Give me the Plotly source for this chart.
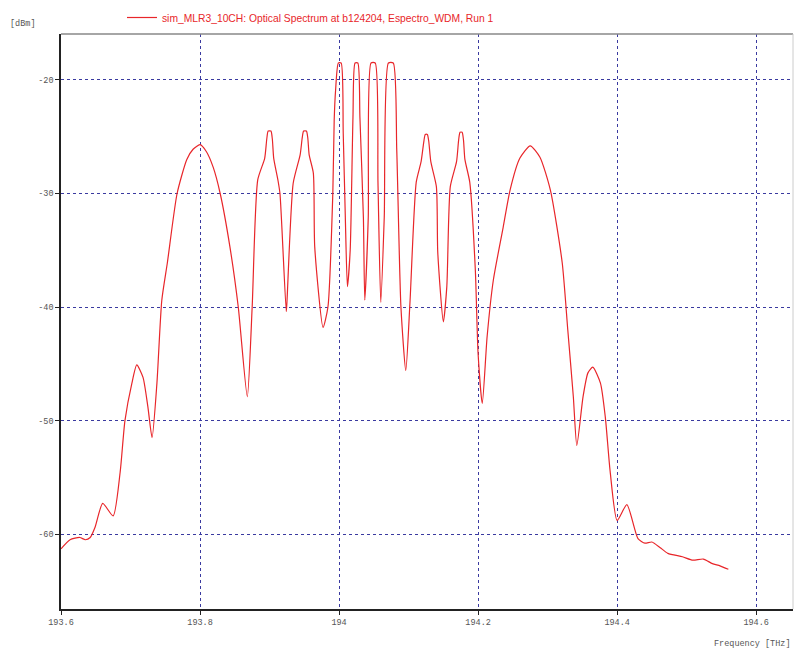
import plotly.graph_objects as go

freq_thz = [
    193.600, 193.613, 193.627, 193.635, 193.642, 193.649, 193.660, 193.675, 193.685, 193.692,
    193.702, 193.709, 193.718, 193.725, 193.731, 193.738, 193.745, 193.753, 193.767, 193.781,
    193.790, 193.800, 193.809, 193.819, 193.829, 193.843, 193.855, 193.868, 193.875, 193.883,
    193.893, 193.896, 193.898, 193.902, 193.904, 193.906, 193.912, 193.915, 193.924, 193.925,
    193.934, 193.944, 193.947, 193.949, 193.953, 193.955, 193.957, 193.963, 193.965, 193.977,
    193.984, 193.991, 193.993, 193.995, 193.999, 194.003, 194.006, 194.009, 194.012, 194.016,
    194.020, 194.023, 194.027, 194.030, 194.035, 194.037, 194.042, 194.046, 194.052, 194.056,
    194.060, 194.065, 194.071, 194.078, 194.083, 194.089, 194.096, 194.102, 194.111, 194.118,
    194.122, 194.124, 194.127, 194.129, 194.132, 194.140, 194.142, 194.150, 194.155, 194.160,
    194.169, 194.172, 194.174, 194.177, 194.179, 194.181, 194.188, 194.196, 194.200, 194.206,
    194.213, 194.222, 194.236, 194.246, 194.260, 194.275, 194.289, 194.304, 194.321, 194.329,
    194.337, 194.342, 194.351, 194.358, 194.365, 194.376, 194.383, 194.390, 194.400, 194.414,
    194.430, 194.440, 194.450, 194.462, 194.473, 194.494, 194.509, 194.524, 194.537, 194.548,
    194.560,
]
power_dbm = [
    -61.3, -60.5, -60.3, -60.5, -60.3, -59.4, -57.3, -58.4, -54.6, -50.0,
    -46.7, -45.1, -46.2, -48.8, -51.5, -46.7, -39.4, -36.1, -30.0, -27.0,
    -26.1, -25.7, -26.3, -27.7, -30.0, -34.7, -40.0, -47.9, -40.0, -28.8,
    -26.9, -25.2, -24.5, -24.5, -25.2, -26.9, -28.8, -30.0, -40.4, -39.6,
    -29.1, -26.6, -25.1, -24.5, -24.5, -25.1, -26.6, -28.2, -34.7, -41.8,
    -40.0, -30.0, -23.5, -20.9, -18.5, -18.5, -24.7, -32.1, -38.2, -35.0,
    -23.3, -18.5, -18.5, -23.3, -32.1, -39.4, -32.1, -18.5, -18.5, -29.1,
    -39.6, -32.1, -18.5, -18.5, -26.2, -40.0, -45.6, -39.6, -29.0, -27.2,
    -25.4, -24.8, -24.8, -25.4, -27.2, -29.4, -35.2, -41.3, -38.2, -29.4,
    -27.2, -25.3, -24.6, -24.6, -25.3, -27.0, -29.0, -36.7, -44.1, -48.5,
    -42.6, -37.6, -33.0, -29.7, -26.9, -25.8, -26.8, -29.7, -36.1, -42.0,
    -47.9, -52.2, -47.9, -45.8, -45.3, -46.7, -49.7, -54.5, -58.8, -57.4,
    -60.4, -60.8, -60.7, -61.2, -61.7, -62.0, -62.3, -62.2, -62.6, -62.8,
    -63.1,
]
x_ticks = [193.6, 193.8, 194.0, 194.2, 194.4, 194.6]
x_tick_labels = ["193.6", "193.8", "194", "194.2", "194.4", "194.6"]
y_ticks = [-60, -50, -40, -30, -20]
y_tick_labels = ["-60", "-50", "-40", "-30", "-20"]
series_name = "sim_MLR3_10CH: Optical Spectrum at b124204, Espectro_WDM, Run 1"

RED = "#e8262a"
GRID = "#3a3aa0"
MONO = "Liberation Mono, Courier New, monospace"

fig = go.Figure()
fig.add_trace(go.Scatter(
    x=freq_thz, y=power_dbm, mode="lines", name=series_name,
    line=dict(color=RED, width=1.2, shape="spline", smoothing=0.6),
))

fig.update_layout(
    width=794, height=649,
    margin=dict(l=61, r=1, t=34, b=40),
    paper_bgcolor="white", plot_bgcolor="white",
    showlegend=True,
    legend=dict(
        orientation="h", x=0.0833, y=1.0 - 3 / 649, xanchor="left", yanchor="top",
        yref="container", itemwidth=30,
        font=dict(family="Liberation Sans, Arial, sans-serif", size=10.3, color=RED),
        bgcolor="rgba(0,0,0,0)",
    ),
    xaxis=dict(
        range=[193.6, 194.653], tickvals=x_ticks, ticktext=x_tick_labels,
        showgrid=True, gridcolor=GRID, griddash="dot", gridwidth=1,
        showline=True, linecolor="#222", linewidth=1.5,
        ticks="outside", ticklen=4, tickcolor="#222",
        tickfont=dict(family=MONO, size=8.5, color="#555"),
        zeroline=False,
    ),
    yaxis=dict(
        range=[-66.6, -15.95], tickvals=y_ticks, ticktext=y_tick_labels,
        showgrid=True, gridcolor=GRID, griddash="dot", gridwidth=1,
        showline=True, linecolor="#222", linewidth=1.5,
        ticks="outside", ticklen=4, tickcolor="#222",
        tickfont=dict(family=MONO, size=8.5, color="#555"),
        zeroline=False,
    ),
    annotations=[
        dict(text="[dBm]", xref="paper", yref="paper", x=-0.0724, y=1.0174,
             xanchor="left", yanchor="middle", showarrow=False,
             font=dict(family=MONO, size=8.5, color="#555")),
        dict(text="Frequency [THz]", xref="paper", yref="paper", x=1.0, y=-0.0609,
             xanchor="right", yanchor="middle", showarrow=False,
             font=dict(family=MONO, size=8.5, color="#555")),
    ],
    shapes=[
        dict(type="line", xref="paper", yref="paper", x0=0, x1=1, y0=1, y1=1,
             line=dict(color="#888", width=1.5)),
        dict(type="line", xref="paper", yref="paper", x0=1, x1=1, y0=0, y1=1,
             line=dict(color="#ccc", width=1)),
    ],
)

fig.write_html("out.html", config={"displayModeBar": False},
               post_script="document.body.style.margin='0';")
